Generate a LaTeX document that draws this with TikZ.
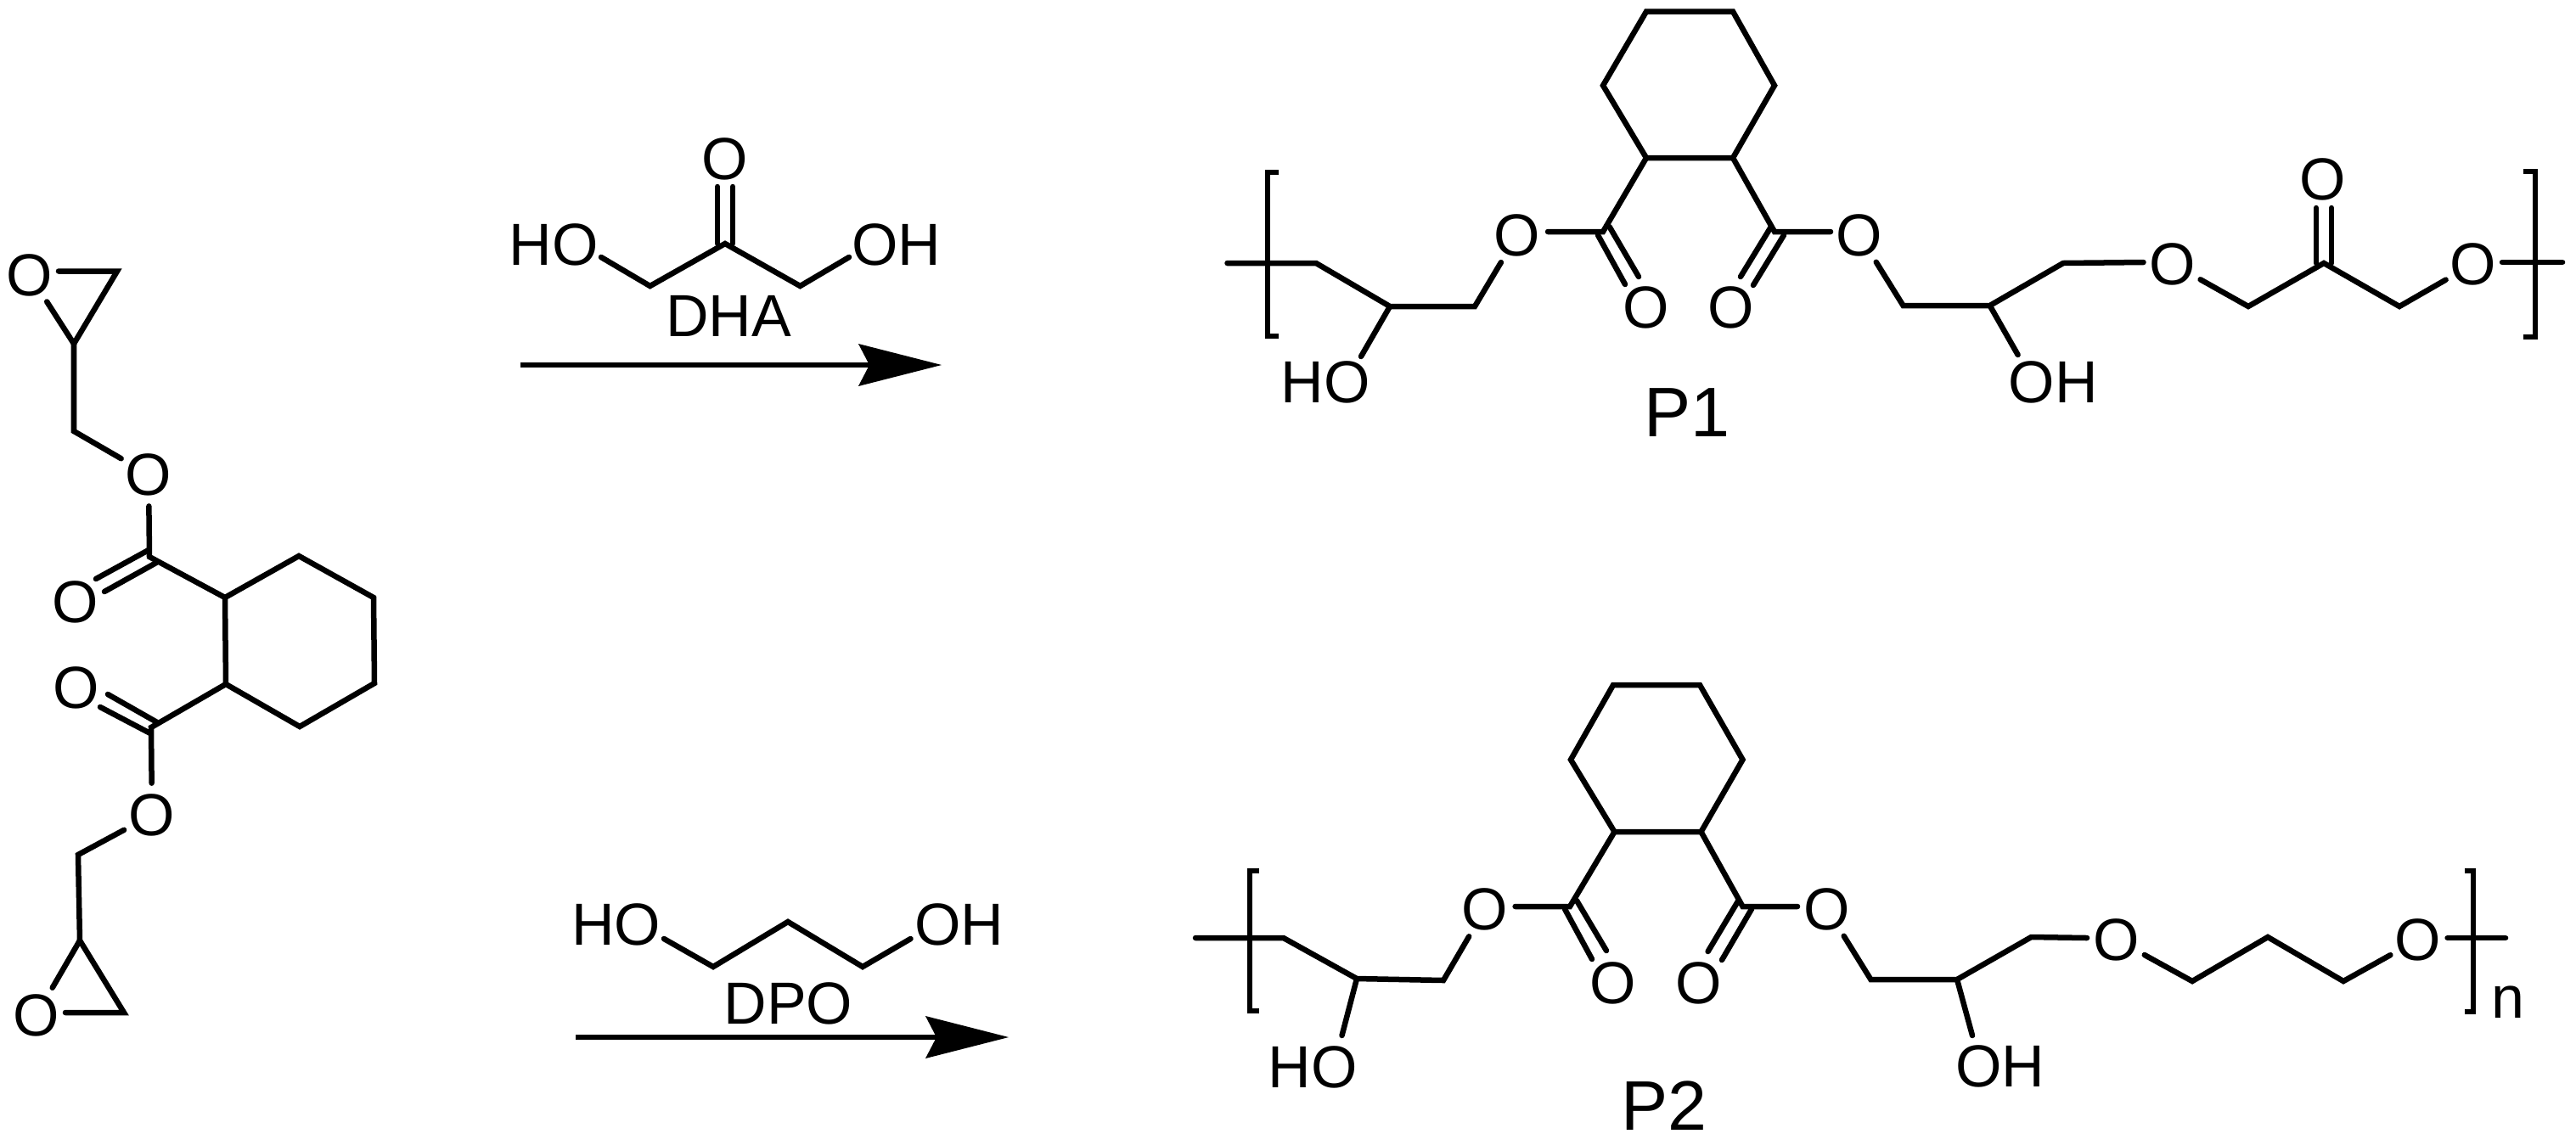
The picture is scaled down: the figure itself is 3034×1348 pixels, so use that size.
\documentclass[tikz,border=0pt]{standalone}
\usepackage{fontspec}
\setmainfont{Liberation Sans}
\usetikzlibrary{arrows.meta}
\newcommand{\placepts}[1]{\foreach \na/\xa/\ya in {#1} {\coordinate (\na) at (\xa,\ya);}}
\newcommand{\placeO}[1]{\foreach \na/\xa/\ya in {#1} {\node[oxy] (\na) at (\xa,\ya) {O};}}
\tikzset{
  bond/.style={draw=black,line width=0.065cm,line cap=round,line join=miter},
  bracketline/.style={draw=black,line width=0.065cm,line cap=butt,line join=miter},
  rxnarrow/.style={draw=black,line width=0.065cm,-{Stealth[length=0.98cm,width=0.5cm,inset=0.13cm,line width=0pt]}},
  chemtext/.style={inner sep=0pt,font=\fontsize{19.9}{20}\selectfont,text=black},
  oxy/.style={chemtext,circle,minimum size=0.72cm},
  bigtext/.style={inner sep=0pt,font=\fontsize{23.5}{24}\selectfont,text=black}
}
\begin{document}
\begin{tikzpicture}[x=0.01cm,y=-0.01cm]
\path[use as bounding box] (0,0) rectangle (3034,1348);
% ---------- monomer
\placeO{mO1/35/324,mO2/175/559,mO3/179/960,mO4/43/1196,mO5/89/709,mO6/90/810}
\placepts{mO1e/69/319.5,mO4e/77/1193,mE1/138/319.5,mE2/87/405,mC1/87/508,mC2/176/656,mR1/265/704,mR2/352/655,mR3/440/704,mR4/441/805,mR5/353/856,mR6/266/806,mC3/178/857,mC4/92/1007,mE3/94/1108,mE4/146/1193,
 mDa/175/648,mDb/113/682,mDc/184/663,mDd/123/697,mDe/185/851,mDf/127/818,mDg/177/864,mDh/118/833}
\draw[bond] (mO1e)--(mE1)--(mE2)--(mO1);
\draw[bond] (mE2)--(mC1)--(mO2);
\draw[bond] (mO2)--(mC2)--(mR1);
\draw[bond] (mR1)--(mR2)--(mR3)--(mR4)--(mR5)--(mR6)--cycle;
\draw[bond] (mR6)--(mC3)--(mO3);
\draw[bond] (mO3)--(mC4)--(mE3)--(mE4)--(mO4e);
\draw[bond] (mE3)--(mO4);
\draw[bond] (mDa)--(mDb);
\draw[bond] (mDc)--(mDd);
\draw[bond] (mDe)--(mDf);
\draw[bond] (mDg)--(mDh);
% ---------- DHA
\node[chemtext] (dhaHO) at (652,288.5) {HO};
\node[chemtext] (dhaOH) at (1055.5,288.5) {OH};
\node[oxy] (dhaO) at (853.6,187) {O};
\node[chemtext] (dhaName) at (858,372) {DHA};
\placepts{aS/708/303,aC1/765.6/337,aC2/854/287,aC3/942.4/337,aE/1000/303,aDa/845/220,aDb/845/287,aDc/863/220,aDd/863/287,aA1/613/430,aA2/1109/430}
\draw[bond] (aS)--(aC1)--(aC2)--(aC3)--(aE);
\draw[bond] (aDa)--(aDb);
\draw[bond] (aDc)--(aDd);
\draw[rxnarrow] (aA1)--(aA2);
% ---------- DPO
\node[chemtext] (dpoHO) at (725.5,1089.5) {HO};
\node[chemtext] (dpoOH) at (1130,1089.5) {OH};
\node[chemtext] (dpoName) at (928.5,1182) {DPO};
\placepts{bS/782/1106,bC1/840/1139,bC2/928/1086,bC3/1016/1139,bE/1072.5/1106,bA1/678/1222,bA2/1188/1222}
\draw[bond] (bS)--(bC1)--(bC2)--(bC3)--(bE);
\draw[rxnarrow] (bA1)--(bA2);
% ---------- P1
\placeO{pO1/1787/277,pO2/2190/277,pO3/1939/362.5,pO4/2039/362.5,pO5/2559/311,pO6/2913/311,pO7/2736/211}
\node[chemtext] (pHO) at (1561,450) {HO};
\node[chemtext] (pOH) at (2418,450) {OH};
\node[bigtext] (pName) at (1987,486) {P1};
\placepts{pS/1445.5/310,pA1/1550/310,pA2/1637/361,pA3/1737/361,pC1/1888/273,pR1/1939/186,pR2/1888/100.7,pR3/1939/13.6,pR4/2041/13.6,pR5/2090/100.7,pR6/2041/186,pC2/2090/273,pB1/2241.5/360,pB2/2343.6/360,pB3/2430/310,pB4/2648/361,pB5/2737/310,pB6/2826/361,pE/3018/309,
 pO1r/1823/273,pO2l/2156/273,pO5l/2524.5/309,pO6r/2947/309,
 pHOe/1603/420,pOHe/2376.6/418,
 pDa/1882/277,pDb/1914/335,pDc/1895.5/267,pDd/1930/326,pDe/2101/277,pDf/2065/336,pDg/2086/267,pDh/2050/326,pDi/2728/245,pDj/2728/310,pDk/2746/245,pDl/2746/310,
 pK1/1506/203,pK2/1493/203,pK3/1493/396,pK4/1506/396,pL1/2972/202,pL2/2986/202,pL3/2986/397,pL4/2972/397}
\draw[bond] (pS)--(pA1)--(pA2)--(pA3)--(pO1);
\draw[bond] (pO1r)--(pC1)--(pR1);
\draw[bond] (pR1)--(pR2)--(pR3)--(pR4)--(pR5)--(pR6)--cycle;
\draw[bond] (pR6)--(pC2)--(pO2l);
\draw[bond] (pO2)--(pB1)--(pB2)--(pB3)--(pO5l);
\draw[bond] (pO5)--(pB4)--(pB5)--(pB6)--(pO6);
\draw[bond] (pO6r)--(pE);
\draw[bond] (pA2)--(pHOe);
\draw[bond] (pB2)--(pOHe);
\draw[bond] (pDa)--(pDb);
\draw[bond] (pDc)--(pDd);
\draw[bond] (pDe)--(pDf);
\draw[bond] (pDg)--(pDh);
\draw[bond] (pDi)--(pDj);
\draw[bond] (pDk)--(pDl);
\draw[bracketline] (pK1)--(pK2)--(pK3)--(pK4);
\draw[bracketline] (pL1)--(pL2)--(pL3)--(pL4);
% ---------- P2
\placeO{qO1/1749/1071,qO2/2152/1071,qO3/1900/1158,qO4/2001/1158,qO5/2493/1107,qO6/2848/1107}
\node[chemtext] (qHO) at (1546,1257) {HO};
\node[chemtext] (qOH) at (2355.5,1256) {OH};
\node[bigtext] (qName) at (1960,1303) {P2};
\node[chemtext] (qN) at (2954,1181) {n};
\placepts{qS/1408/1105,qA1/1511.6/1105,qA2/1598/1153,qA3/1700/1155,qC1/1849/1068,qR1/1901.5/980,qR2/1850/895,qR3/1900/807,qR4/2002/807,qR5/2052.5/895,qR6/2003.5/980,qC2/2052.5/1068,qB1/2203.4/1154,qB2/2305/1154,qB3/2392.4/1104,qB4/2582/1156,qB5/2671/1104,qB6/2760/1156,qE/2951/1105,
 qO1r/1784.6/1068,qO2l/2117/1068,qO5l/2458/1105,qO6r/2882.6/1105,
 qHOe/1580.5/1220,qOHe/2323/1220,
 qDa/1843/1071,qDb/1875/1130,qDc/1857/1061,qDd/1892/1120,qDe/2063/1071,qDf/2028/1131,qDg/2047.4/1061,qDh/2011.6/1121,
 qK1/1483/1026,qK2/1472/1026,qK3/1472/1191,qK4/1483/1191,qL1/2903/1026,qL2/2913/1026,qL3/2913/1192,qL4/2903/1192}
\draw[bond] (qS)--(qA1)--(qA2)--(qA3)--(qO1);
\draw[bond] (qO1r)--(qC1)--(qR1);
\draw[bond] (qR1)--(qR2)--(qR3)--(qR4)--(qR5)--(qR6)--cycle;
\draw[bond] (qR6)--(qC2)--(qO2l);
\draw[bond] (qO2)--(qB1)--(qB2)--(qB3)--(qO5l);
\draw[bond] (qO5)--(qB4)--(qB5)--(qB6)--(qO6);
\draw[bond] (qO6r)--(qE);
\draw[bond] (qA2)--(qHOe);
\draw[bond] (qB2)--(qOHe);
\draw[bond] (qDa)--(qDb);
\draw[bond] (qDc)--(qDd);
\draw[bond] (qDe)--(qDf);
\draw[bond] (qDg)--(qDh);
\draw[bracketline] (qK1)--(qK2)--(qK3)--(qK4);
\draw[bracketline] (qL1)--(qL2)--(qL3)--(qL4);
\end{tikzpicture}
\end{document}
